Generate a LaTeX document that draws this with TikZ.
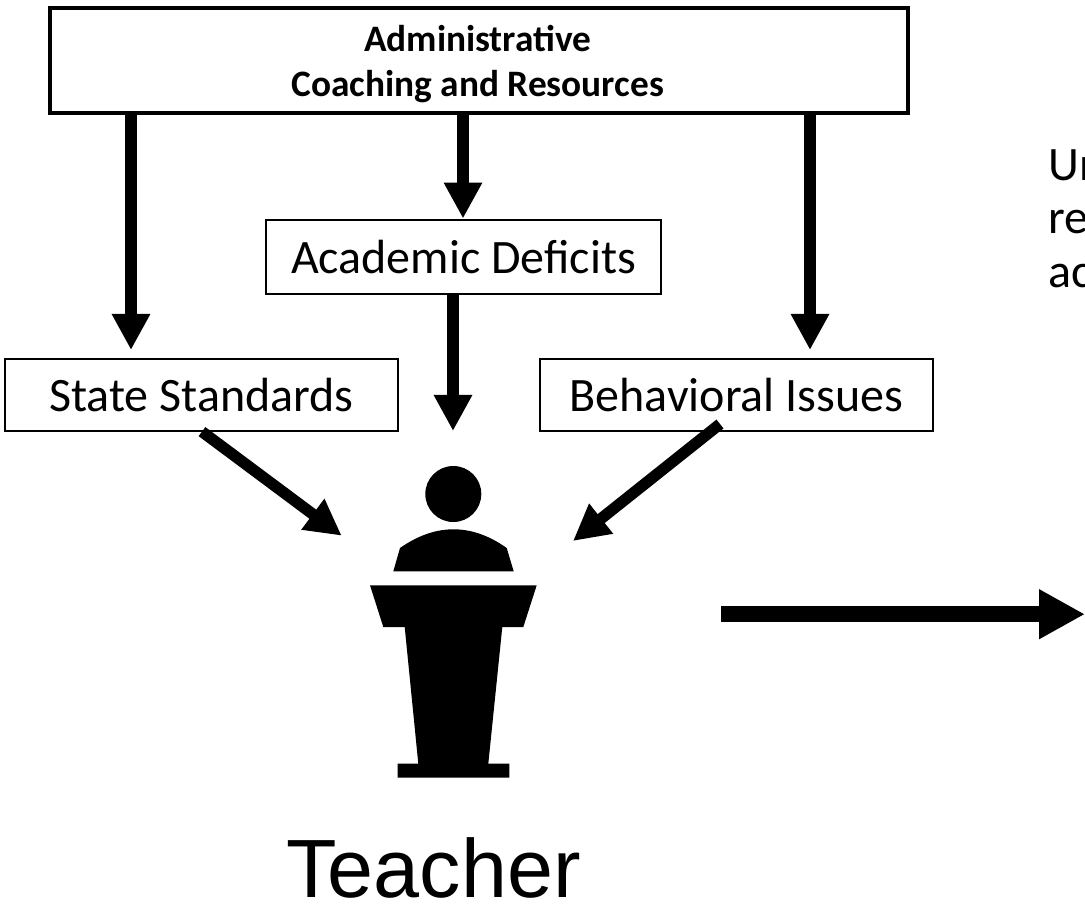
\documentclass[tikz,border=0pt]{standalone}
\usepackage{fontspec}
\setmainfont{Carlito}
\newfontfamily\arialf{Liberation Sans}
\usetikzlibrary{arrows.meta,calc}
\tikzset{
  px/.style={x=0.75pt,y=-0.75pt},
  thinbox/.style={draw=black,line width=1.5pt*0.75,fill=white,inner sep=0pt,align=center,font=\fontsize{36pt}{40pt}\selectfont},
  topbox/.style={draw=black,line width=4pt*0.75,fill=white,inner sep=0pt,align=center,font=\bfseries\fontsize{28pt}{34pt}\selectfont},
  arr/.style={line width=8.5pt,-{Triangle[length=27pt,width=27pt]}},
  bigarr/.style={line width=12pt,-{Triangle[length=34.5pt,width=35pt]}},
  ink/.style={fill=black,draw=none},
  sidetext/.style={anchor=base west,inner sep=0pt,font=\fontsize{36pt}{40pt}\selectfont},
}
\begin{document}
\begin{tikzpicture}[px]
\useasboundingbox (0,0) rectangle (1085,905);
\clip (0,0) rectangle (1085,905);
\node[topbox,minimum width=858*0.75pt,minimum height=105*0.75pt] (admin) at (479,60.5) {\rule{0pt}{25pt}Administrative\rule{2pt}{0pt}\\Coaching and Resources\rule{2pt}{0pt}};
\node[thinbox,minimum width=395*0.75pt,minimum height=74*0.75pt] (deficits) at (463.5,257) {Academic Deficits};
\node[thinbox,minimum width=393*0.75pt,minimum height=72*0.75pt] (state) at (201.5,395) {State Standards};
\node[thinbox,minimum width=393*0.75pt,minimum height=72*0.75pt] (behav) at (736.5,395) {Behavioral Issues};
% podium
\node[ink,circle,minimum size=56*0.75pt,inner sep=0pt] (head) at (453.3,494) {};
\fill[black] (393.3,571.3) -- (400,548) .. controls (420,534) and (438,529.3) .. (453.5,529.3) .. controls (469,529.3) and (487,534) .. (506.7,548) -- (513.7,571.3) -- cycle;
\fill[black] (370,585.3) -- (536.7,585.3) -- (523.3,627) -- (502.3,627) -- (488.3,763.7) -- (509.3,763.7) -- (509.3,777.7) -- (397.7,777.7) -- (397.7,763.7) -- (418.3,763.7) -- (404.7,627) -- (383.3,627) -- cycle;
\coordinate (stateend) at (341.7,535.7);
\coordinate (behavend) at (573,541);
\coordinate (deficend) at (453,431);
\coordinate (bigstart) at (721,614.2);
\coordinate (bigend) at (1085,614.2);
% connectors
\draw[arr] (admin.south -| 131,0) ++(0,-2) -- (131,350);
\draw[arr] (admin.south -| 463,0) ++(0,-2) -- ([yshift=0.5pt]deficits.north -| 463,0);
\draw[arr] (admin.south -| 810,0) ++(0,-2) -- (810,350);
\draw[arr] (deficits.south -| 453,0) -- (deficend);
\draw[arr] (202,431.6) -- (stateend);
\draw[arr] (720,424) -- (behavend);
\draw[bigarr] (bigstart) -- (bigend);
% texts
\node[anchor=base,inner sep=0pt,font=\arialf\fontsize{62pt}{64pt}\selectfont] (teacher) at (433.5,897) {Teacher};
\node[sidetext] (l1) at (1048,181) {Un};
\node[sidetext] (l2) at (1048,234) {re};
\node[sidetext] (l3) at (1048,288) {ac};
\end{tikzpicture}
\end{document}
